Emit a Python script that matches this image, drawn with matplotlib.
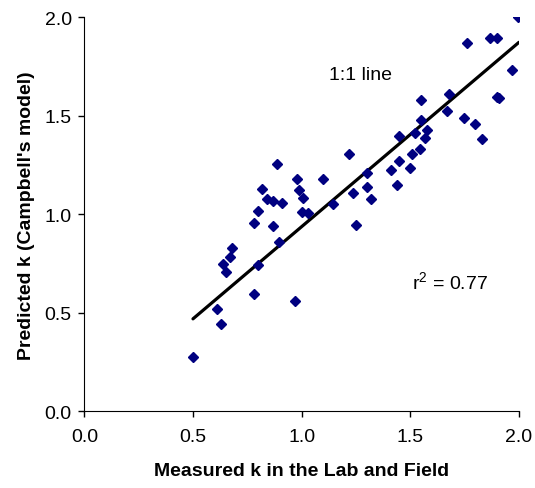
import matplotlib
matplotlib.use("Agg")
import matplotlib.pyplot as plt

# valores
measured_k = [0.499, 0.609, 0.629, 0.640, 0.652, 0.670, 0.678, 0.781, 0.781, 0.799,
              0.801, 0.819, 0.839, 0.870, 0.870, 0.888, 0.896, 0.911, 0.969, 0.980,
              0.988, 1.008, 1.000, 1.031, 1.100, 1.143, 1.219, 1.238, 1.250, 1.299,
              1.299, 1.318, 1.410, 1.437, 1.449, 1.499, 1.509, 1.450, 1.522, 1.545,
              1.548, 1.548, 1.569, 1.578, 1.667, 1.678, 1.748, 1.759, 1.799, 1.828,
              1.867, 1.900, 1.897, 1.909, 1.968, 1.997]
predicted_k = [0.274, 0.519, 0.442, 0.748, 0.709, 0.782, 0.829, 0.956, 0.595, 1.015,
               0.741, 1.128, 1.078, 1.069, 0.942, 1.253, 0.858, 1.057, 0.558, 1.179,
               1.123, 1.083, 1.013, 1.008, 1.179, 1.051, 1.308, 1.106, 0.947, 1.212,
               1.137, 1.078, 1.226, 1.149, 1.272, 1.234, 1.308, 1.399, 1.413, 1.329,
               1.480, 1.582, 1.389, 1.429, 1.526, 1.609, 1.487, 1.870, 1.458, 1.382,
               1.893, 1.893, 1.594, 1.589, 1.730, 2.000]

# recta dibujada
line_x = [0.5, 2.0]
line_y = [0.469, 1.873]

ticks = [0.0, 0.5, 1.0, 1.5, 2.0]
tick_labels = ["0.0", "0.5", "1.0", "1.5", "2.0"]

plt.rcParams['font.family'] = ['Liberation Sans', 'DejaVu Sans']

fig = plt.figure(figsize=(5.35, 4.89), dpi=100)
ax = fig.add_axes([0.1576, 0.157, 0.8124, 0.8056])

ax.plot(line_x, line_y, color='black', linewidth=2.3, solid_capstyle='round', zorder=2)
ax.plot(measured_k, predicted_k, linestyle='none', marker='D', markersize=5,
        color='#000080', markeredgecolor='#000080', zorder=3)

ax.set_xlim(0, 2)
ax.set_ylim(0, 2)
ax.set_xticks(ticks)
ax.set_xticklabels(tick_labels)
ax.set_yticks(ticks)
ax.set_yticklabels(tick_labels)
ax.tick_params(direction='out', length=4, width=1, labelsize=14)
ax.tick_params(axis='x', pad=8)
ax.tick_params(axis='y', pad=5)

ax.spines['top'].set_visible(False)
ax.spines['right'].set_visible(False)

ax.set_xlabel("Measured k in the Lab and Field", fontsize=14, fontweight='bold', labelpad=12)
ax.set_ylabel("Predicted k (Campbell's model)", fontsize=14, fontweight='bold', labelpad=7)

ax.text(1.273, 1.712, "1:1 line", fontsize=14, ha='center', va='center')
ax.text(1.682, 0.656, "r$^{\\mathregular{2}}$ = 0.77", fontsize=14, ha='center', va='center')

fig.savefig("out.png", dpi=100)
